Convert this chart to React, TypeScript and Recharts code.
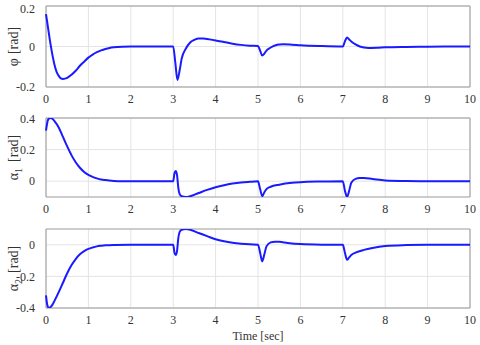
import React from "react";
import { LineChart, Line, XAxis, YAxis, CartesianGrid, ReferenceArea, Label } from "recharts";

const timeTicks = [0, 1, 2, 3, 4, 5, 6, 7, 8, 9, 10];

const phiTime = [0, 0.05, 0.1, 0.15, 0.2, 0.25, 0.3, 0.35, 0.4, 0.5, 0.6, 0.7, 0.8, 0.9, 1.0, 1.1, 1.2, 1.3, 1.4, 1.5, 1.6, 1.8, 2.0, 3.0, 3.05, 3.1, 3.15, 3.2, 3.3, 3.4, 3.5, 3.6, 3.7, 3.8, 4.0, 4.2, 4.4, 4.6, 4.8, 5.0, 5.05, 5.1, 5.15, 5.2, 5.3, 5.4, 5.5, 5.6, 5.8, 6.0, 6.5, 7.0, 7.05, 7.1, 7.15, 7.2, 7.3, 7.4, 7.5, 7.6, 7.8, 8.0, 8.5, 9.0, 10];
const phiValues = [0.16, 0.09, 0.02, -0.04, -0.09, -0.125, -0.145, -0.157, -0.16, -0.155, -0.14, -0.12, -0.095, -0.075, -0.055, -0.04, -0.028, -0.019, -0.012, -0.007, -0.004, -0.001, 0, 0, -0.08, -0.165, -0.12, -0.06, -0.01, 0.02, 0.033, 0.04, 0.04, 0.037, 0.03, 0.022, 0.014, 0.008, 0.004, 0.002, -0.02, -0.045, -0.035, -0.02, -0.005, 0.005, 0.01, 0.011, 0.009, 0.006, 0.002, 0, 0.025, 0.045, 0.035, 0.025, 0.01, 0, -0.005, -0.007, -0.006, -0.004, -0.002, -0.001, 0];

const alpha1Time = [0, 0.05, 0.1, 0.15, 0.2, 0.3, 0.4, 0.5, 0.6, 0.7, 0.8, 0.9, 1.0, 1.1, 1.2, 1.3, 1.4, 1.6, 1.8, 2.0, 3.0, 3.03, 3.06, 3.09, 3.12, 3.15, 3.2, 3.3, 3.4, 3.6, 3.8, 4.0, 4.2, 4.4, 4.6, 4.8, 5.0, 5.05, 5.1, 5.15, 5.2, 5.3, 5.5, 5.8, 6.0, 6.5, 7.0, 7.05, 7.1, 7.15, 7.2, 7.3, 7.4, 7.5, 7.7, 8.0, 8.5, 9.0, 10];
const alpha1Values = [0.32, 0.39, 0.4, 0.395, 0.38, 0.34, 0.28, 0.22, 0.165, 0.12, 0.085, 0.058, 0.04, 0.027, 0.018, 0.011, 0.007, 0.002, 0, 0, 0, 0.05, 0.065, 0.04, -0.04, -0.08, -0.095, -0.1, -0.095, -0.075, -0.055, -0.038, -0.025, -0.015, -0.008, -0.004, -0.001, -0.05, -0.095, -0.07, -0.05, -0.035, -0.022, -0.01, -0.006, -0.002, 0, -0.06, -0.1, -0.06, -0.01, 0.015, 0.02, 0.02, 0.014, 0.005, 0.001, 0, 0];

const alpha2Time = [0, 0.03, 0.07, 0.1, 0.15, 0.2, 0.3, 0.4, 0.5, 0.6, 0.7, 0.8, 0.9, 1.0, 1.1, 1.2, 1.3, 1.4, 1.6, 2.0, 3.0, 3.03, 3.06, 3.09, 3.12, 3.15, 3.2, 3.3, 3.4, 3.6, 3.8, 4.0, 4.2, 4.4, 4.6, 4.8, 5.0, 5.05, 5.1, 5.15, 5.2, 5.3, 5.4, 5.5, 5.7, 6.0, 6.5, 7.0, 7.05, 7.1, 7.15, 7.2, 7.3, 7.5, 7.7, 8.0, 8.5, 9.0, 10];
const alpha2Values = [-0.32, -0.38, -0.4, -0.395, -0.38, -0.355, -0.3, -0.24, -0.18, -0.13, -0.09, -0.06, -0.04, -0.026, -0.017, -0.01, -0.006, -0.003, -0.001, 0, 0, -0.05, -0.065, -0.04, 0.04, 0.08, 0.095, 0.1, 0.095, 0.075, 0.055, 0.035, 0.022, 0.013, 0.007, 0.003, 0.001, -0.05, -0.105, -0.06, -0.01, 0.015, 0.02, 0.019, 0.012, 0.005, 0.001, 0, -0.05, -0.095, -0.08, -0.065, -0.05, -0.032, -0.02, -0.008, -0.002, 0, 0];

const toRows = (t: number[], v: number[]) => t.map((x, i) => ({ t: x, v: v[i] }));

const FONT = "Liberation Serif";
const fmt = (v: number) => (v === 0 ? "0" : String(v));

// custom ticks so the serif font actually sticks
const XTick = (props: any) => (
  <text x={props.x} y={props.y} dy="0.71em" textAnchor="middle" fontFamily={FONT} fontSize={12} fill="#333">
    {props.payload.value}
  </text>
);
const YTick = (props: any) => (
  <text x={props.x} y={props.y} dy="0.355em" textAnchor="end" fontFamily={FONT} fontSize={12} fill="#333">
    {fmt(props.payload.value)}
  </text>
);

// rotated y label, subscript optional
const yLabel = (sym: string, sub?: string) => (props: any) => {
  const vb = props.viewBox || { x: 0, y: 0, width: 0, height: 0 };
  const cy = vb.y + vb.height / 2;
  const cx = 18;
  return (
    <text x={cx} y={cy} transform={`rotate(-90 ${cx} ${cy})`} textAnchor="middle" fontFamily={FONT} fontSize={14} fill="#333">
      {sym}
      {sub ? (
        <tspan fontSize={10} dy={4}>
          {sub}
        </tspan>
      ) : null}
      <tspan dx={sub ? 6 : 4} dy={sub ? -4 : 0}>
        [rad]
      </tspan>
    </text>
  );
};

interface PanelProps {
  data: { t: number; v: number }[];
  domain: [number, number];
  ticks: number[];
  top: number;
  height: number;
  marginTop: number;
  xHeight: number;
  label: (p: any) => React.ReactElement;
  xTitle?: string;
}

const Panel: React.FC<PanelProps> = ({ data, domain, ticks, top, height, marginTop, xHeight, label, xTitle }) => (
  <div style={{ position: "absolute", left: 0, top }}>
    <LineChart width={480} height={height} data={data} margin={{ top: marginTop, right: 10, left: 0, bottom: 0 }}>
      <CartesianGrid stroke="#e4e4e4" horizontalValues={ticks} verticalValues={timeTicks} />
      <XAxis
        dataKey="t"
        type="number"
        domain={[0, 10]}
        ticks={timeTicks}
        tick={<XTick />}
        tickLine={false}
        axisLine={false}
        tickMargin={1}
        height={xHeight}
        interval={0}
      >
        {xTitle ? (
          <Label value={xTitle} position="insideBottom" offset={5} fontFamily={FONT} fontSize={12} fill="#333" />
        ) : null}
      </XAxis>
      <YAxis
        type="number"
        domain={domain}
        ticks={ticks}
        tick={<YTick />}
        tickLine={false}
        axisLine={false}
        tickMargin={5}
        width={46}
        allowDataOverflow
        label={{ content: label }}
      />
      <Line type="monotone" dataKey="v" stroke="#1a1aff" strokeWidth={2} dot={false} isAnimationActive={false} />
      <ReferenceArea x1={0} x2={10} y1={domain[0]} y2={domain[1]} fill="none" stroke="#9a9a9a" strokeWidth={1} />
    </LineChart>
  </div>
);

export default function App() {
  return (
    <div style={{ position: "absolute", left: 0, top: 0, width: 480, height: 345, background: "#fff" }}>
      <Panel
        data={toRows(phiTime, phiValues)}
        domain={[-0.2, 0.2]}
        ticks={[-0.2, 0, 0.2]}
        top={0}
        height={110}
        marginTop={6}
        xHeight={23}
        label={yLabel("φ")}
      />
      <Panel
        data={toRows(alpha1Time, alpha1Values)}
        domain={[-0.1, 0.4]}
        ticks={[0, 0.2, 0.4]}
        top={110}
        height={110}
        marginTop={8}
        xHeight={23}
        label={yLabel("α", "1")}
      />
      <Panel
        data={toRows(alpha2Time, alpha2Values)}
        domain={[-0.4, 0.1]}
        ticks={[-0.4, -0.2, 0]}
        top={220}
        height={125}
        marginTop={9}
        xHeight={37}
        label={yLabel("α", "2")}
        xTitle="Time [sec]"
      />
    </div>
  );
}
